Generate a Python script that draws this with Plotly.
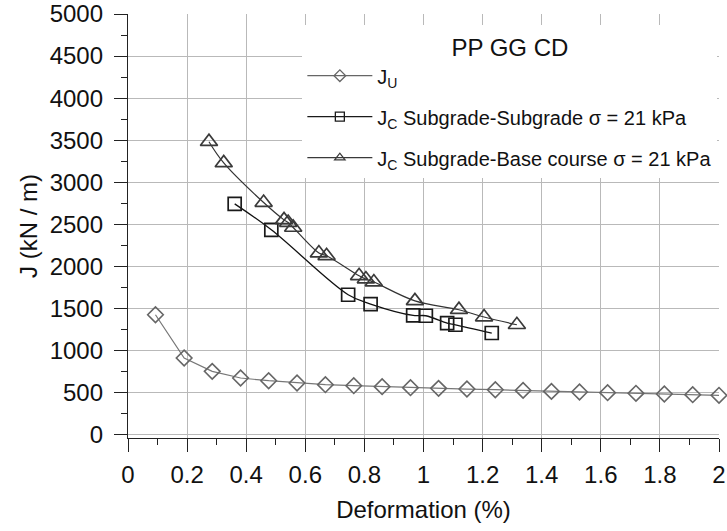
import plotly.graph_objects as go

# ---- data ----
ju_x = [0.093, 0.190, 0.285, 0.381, 0.476, 0.572, 0.668, 0.764, 0.860, 0.956, 1.051,
        1.147, 1.243, 1.337, 1.433, 1.528, 1.623, 1.719, 1.815, 1.911, 2.0]
ju_y = [1425, 911, 752, 673, 641, 614, 594, 582, 570, 558, 550,
        542, 534, 526, 514, 507, 499, 491, 483, 475, 467]

ss_x = [0.361, 0.485, 0.745, 0.821, 0.965, 1.008, 1.080, 1.108, 1.231]
ss_y = [2743, 2435, 1663, 1552, 1417, 1413, 1326, 1306, 1208]

sb_x = [0.274, 0.324, 0.459, 0.528, 0.542, 0.559, 0.646, 0.672, 0.782, 0.805, 0.832,
        0.971, 1.120, 1.205, 1.316]
sb_y = [3482, 3230, 2759, 2553, 2521, 2462, 2158, 2126, 1888, 1849, 1814,
        1590, 1485, 1398, 1306]

names = ["J<sub>U</sub>",
         "J<sub>C</sub> Subgrade-Subgrade σ = 21 kPa",
         "J<sub>C</sub> Subgrade-Base course σ = 21 kPa"]
legend_title = "PP GG CD"
x_title = "Deformation (%)"
y_title = "J (kN / m)"

FONT = "Liberation Sans, Arial, sans-serif"
c_u, c_ss, c_sb = "#666666", "#1a1a1a", "#3a3a3a"
l_u, l_ss, l_sb = "#777777", "#111111", "#333333"

fig = go.Figure()

fig.add_trace(go.Scatter(x=ju_x, y=ju_y, mode="lines+markers", showlegend=False,
                         cliponaxis=False,
                         line=dict(color=l_u, width=1.2),
                         marker=dict(symbol="diamond-open", size=12, color=c_u,
                                     line=dict(width=1.6, color=c_u))))
fig.add_trace(go.Scatter(x=ss_x, y=ss_y, mode="lines+markers", showlegend=False,
                         line=dict(color=l_ss, width=1.3, shape="spline", smoothing=1),
                         marker=dict(symbol="square-open", size=13, color=c_ss,
                                     line=dict(width=1.7, color=c_ss))))
fig.add_trace(go.Scatter(x=sb_x, y=sb_y, mode="lines+markers", showlegend=False,
                         line=dict(color=l_sb, width=1.2, shape="spline", smoothing=1),
                         marker=dict(symbol="triangle-up-open", size=15, color=c_sb,
                                     line=dict(width=1.7, color=c_sb))))

# legend-only entries (small symbols like the reference)
for nm, sym, col, grp in [(names[0], "diamond-open", c_u, "a"),
                          (names[1], "square-open", c_ss, "b"),
                          (names[2], "triangle-up-open", c_sb, "c")]:
    fig.add_trace(go.Scatter(x=[None], y=[None], mode="lines+markers", name=nm,
                             legendgroup=grp,
                             line=dict(color=col, width=1.2),
                             marker=dict(symbol=sym, size=9, color=col,
                                         line=dict(width=1.3, color=col))))

axis_common = dict(showline=True, linecolor="#222222", linewidth=1.3,
                   ticks="outside", ticklen=13, tickwidth=1.3, tickcolor="#222222",
                   showgrid=True, gridcolor="#b9b9b9", gridwidth=1,
                   zeroline=False, automargin=False, ticklabeloverflow="allow",
                   tickfont=dict(family=FONT, size=24, color="#111111"))

fig.update_layout(
    width=727, height=531,
    margin=dict(l=128, r=8, t=14, b=93),
    paper_bgcolor="white", plot_bgcolor="white",
    font=dict(family=FONT, color="#111111"),
    xaxis=dict(range=[0, 2], dtick=0.2, tick0=0,
               minor=dict(dtick=0.1, ticks="outside", ticklen=6, tickwidth=1.3,
                          tickcolor="#222222", showgrid=False),
               title=dict(text=x_title, font=dict(family=FONT, size=24), standoff=14),
               ticklabelstandoff=2,
               **axis_common),
    yaxis=dict(range=[-40, 5000], tickvals=list(range(0, 5001, 500)),
               minor=dict(tickvals=list(range(250, 5000, 500)), ticks="outside",
                          ticklen=6, tickwidth=1.3, tickcolor="#222222", showgrid=False),
               title=dict(text=y_title, font=dict(family=FONT, size=24), standoff=5),
               ticklabelstandoff=6,
               **axis_common),
    legend=dict(x=0.295, y=0.974, xanchor="left", yanchor="top",
                bgcolor="white", borderwidth=0,
                font=dict(family=FONT, size=20, color="#111111"),
                title=dict(text=legend_title, side="top center",
                           font=dict(family=FONT, size=24, color="#111111")),
                itemwidth=65, tracegroupgap=12, traceorder="grouped"),
)

# remove the default 8px page margin so the figure sits at the window's corner
fig.write_html("out.html", config={"displayModeBar": False},
               post_script="document.body.style.margin='0px';")
